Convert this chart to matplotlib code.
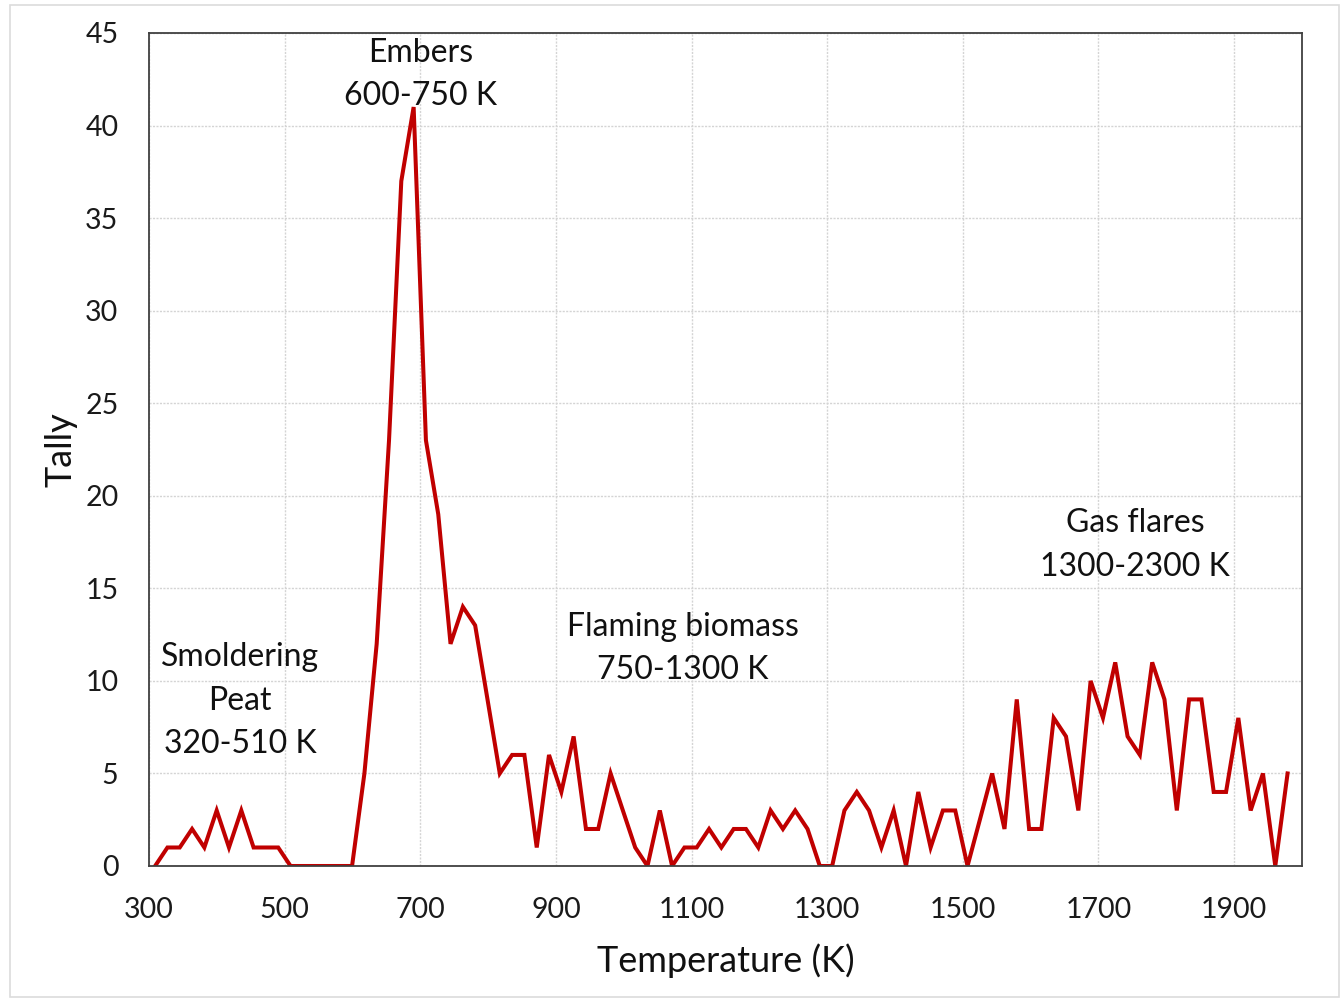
import matplotlib
matplotlib.use("Agg")
import matplotlib.pyplot as plt
from matplotlib.patches import Rectangle

# Temperature bin centres (K) and fire-pixel tallies per bin
temperature = [
    309.0, 327.2, 345.3, 363.5, 381.6, 399.8, 417.9, 436.1, 454.2, 472.4,
    490.5, 508.7, 526.8, 545.0, 563.1, 581.3, 599.4, 617.6, 635.7, 653.9,
    672.0, 690.2, 708.3, 726.5, 744.6, 762.8, 780.9, 799.1, 817.2, 835.4,
    853.5, 871.7, 889.8, 908.0, 926.1, 944.3, 962.4, 980.6, 998.7, 1016.9,
    1035.0, 1053.2, 1071.3, 1089.5, 1107.6, 1125.8, 1143.9, 1162.1, 1180.2, 1198.4,
    1216.5, 1234.7, 1252.8, 1271.0, 1289.1, 1307.3, 1325.4, 1343.6, 1361.7, 1379.9,
    1398.0, 1416.2, 1434.3, 1452.5, 1470.6, 1488.8, 1506.9, 1525.1, 1543.2, 1561.4,
    1579.5, 1597.7, 1615.8, 1634.0, 1652.1, 1670.3, 1688.4, 1706.6, 1724.7, 1742.9,
    1761.0, 1779.2, 1797.3, 1815.5, 1833.6, 1851.8, 1869.9, 1888.1, 1906.2, 1924.4,
    1942.5, 1960.7, 1978.8,
]
tally = [
    0, 1, 1, 2, 1, 3, 1, 3, 1, 1,
    1, 0, 0, 0, 0, 0, 0, 5, 12, 23,
    37, 41, 23, 19, 12, 14, 13, 9, 5, 6,
    6, 1, 6, 4, 7, 2, 2, 5, 3, 1,
    0, 3, 0, 1, 1, 2, 1, 2, 2, 1,
    3, 2, 3, 2, 0, 0, 3, 4, 3, 1,
    3, 0, 4, 1, 3, 3, 0, 2.5, 5, 2,
    9, 2, 2, 8, 7, 3, 10, 8, 11, 7,
    6, 11, 9, 3, 9, 9, 4, 4, 8, 3,
    5, 0, 5,
]

x_ticks = [300, 500, 700, 900, 1100, 1300, 1500, 1700, 1900]
y_ticks = [0, 5, 10, 15, 20, 25, 30, 35, 40, 45]

# Regime annotations: (x centre, [(line, baseline y), ...])
regimes = [
    (701, [("Embers", 43.44), ("600-750 K", 41.11)]),
    (434, [("Smoldering", 10.80), ("Peat", 8.43), ("320-510 K", 6.10)]),
    (1087, [("Flaming biomass", 12.43), ("750-1300 K", 10.10)]),
    (1754, [("Gas flares", 18.04), ("1300-2300 K", 15.67)]),
]

plt.rcParams["font.family"] = ["Lato", "DejaVu Sans"]

fig = plt.figure(figsize=(13.4, 10), dpi=100)
fig.patch.set_facecolor("white")
fig.patches.append(Rectangle((0.0075, 0.003), 0.9915, 0.992, transform=fig.transFigure,
                             fill=False, edgecolor="#dcdcdc", linewidth=1.2))

ax = fig.add_axes([0.1112, 0.134, 0.8604, 0.833])
ax.plot(temperature, tally, color="#C00000", linewidth=2.9, solid_joinstyle="miter")

ax.set_xlim(300, 2000)
ax.set_ylim(0, 45)
ax.set_xticks(x_ticks)
ax.set_yticks(y_ticks)
ax.tick_params(axis="both", length=0, labelsize=20.5, colors="#1a1a1a")
ax.tick_params(axis="x", pad=22)
ax.tick_params(axis="y", pad=22)

ax.grid(True, color="#d4d4d4", linestyle=(0, (1.5, 1)), linewidth=1.0)
ax.set_axisbelow(True)
for side in ax.spines.values():
    side.set_color("#404040")
    side.set_linewidth(1.3)

ax.set_xlabel("Temperature (K)", fontsize=26, color="#111111")
ax.set_ylabel("Tally", fontsize=26, color="#111111")
ax.xaxis.set_label_coords(0.5, -0.093)
ax.yaxis.set_label_coords(-0.062, 0.5)

for xc, lines in regimes:
    for text, yb in lines:
        ax.text(xc, yb, text, ha="center", va="baseline", fontsize=23, color="#111111")

fig.savefig("out.png", dpi=100)
